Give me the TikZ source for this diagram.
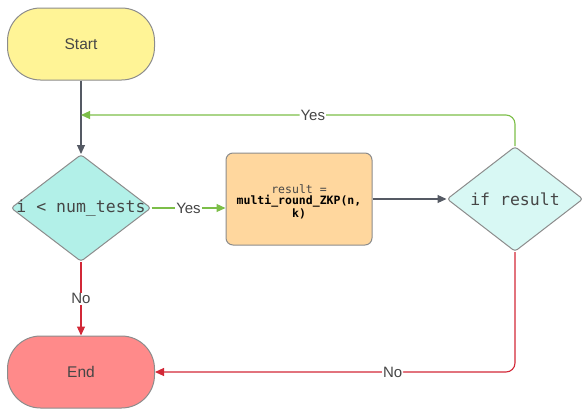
\documentclass[tikz,border=0pt]{standalone}
\usepackage{fontspec}
\setmainfont{Liberation Sans}
\setmonofont{DejaVu Sans Mono}
\usetikzlibrary{arrows.meta,shapes.geometric}

\definecolor{startfill}{RGB}{255,244,150}
\definecolor{endfill}{RGB}{255,138,138}
\definecolor{decfill}{RGB}{178,240,232}
\definecolor{decfilltwo}{RGB}{216,248,244}
\definecolor{procfill}{RGB}{255,215,158}
\definecolor{edgegray}{RGB}{140,140,140}
\definecolor{linkgray}{RGB}{85,90,100}
\definecolor{linkgreen}{RGB}{124,190,72}
\definecolor{linkred}{RGB}{210,40,55}
\definecolor{txtgray}{RGB}{70,70,70}

\tikzset{
  terminal/.style={draw=edgegray, line width=1pt, rectangle, rounded corners=33pt,
    minimum width=147pt, minimum height=72pt, inner sep=0pt,
    font=\fontsize{15.5}{17}\selectfont, text=txtgray},
  decision/.style={draw=edgegray, line width=1pt, diamond, rounded corners=3pt,
    inner sep=0pt},
  process/.style={draw=edgegray, line width=1pt, rectangle, rounded corners=7pt,
    fill=procfill, minimum width=146pt, minimum height=92pt, inner sep=0pt},
  monolbl/.style={font=\ttfamily\fontsize{16.5}{18}\selectfont, text=txtgray},
  link/.style={line width=1.1pt, -{Triangle[length=9pt,width=8pt]}},
  edgelbl/.style={fill=white, inner sep=1pt, font=\fontsize{15}{17}\selectfont, text=txtgray},
}

\begin{document}
\begin{tikzpicture}[x=1pt,y=-1pt]
\useasboundingbox (0,0) rectangle (584,413);

% nodes
\node[terminal, fill=startfill] (start) at (81,44) {Start};
\node[decision, fill=decfill, minimum width=140pt, minimum height=107pt,
      label={[monolbl]center:i < num\_tests}] (d1) at (81,208) {};
\node[process] (proc) at (299,199) {};
\node[align=center, font=\ttfamily\fontsize{11.5}{11}\selectfont, text=black]
  (proctext) at (299,202) {{\color{txtgray}result =}\\\textbf{multi\_round\_ZKP(n,}\\\textbf{k)}};
\node[decision, fill=decfilltwo, minimum width=136pt, minimum height=105pt,
      label={[monolbl]center:if result}] (d2) at (515,199) {};
\node[terminal, fill=endfill] (stop) at (81,372) {End};

\coordinate (merge) at (81,115);

% connectors
\draw[link, linkgray] (start) -- (d1);
\draw[link, linkgreen] (d1.east) -- node[edgelbl]{Yes} (d1.east -| proc.west);
\draw[link, linkgray] (proc.east) -- (d2.west);
\draw[link, linkgreen, rounded corners=9pt] (d2.north) |- node[edgelbl, pos=0.733]{Yes} (merge);
\draw[link, linkred] (d1.south) -- node[edgelbl]{No} (stop.north);
\draw[link, linkred, rounded corners=9pt] (d2.south) |- node[edgelbl, pos=0.67]{No} (stop.east);
\end{tikzpicture}
\end{document}
